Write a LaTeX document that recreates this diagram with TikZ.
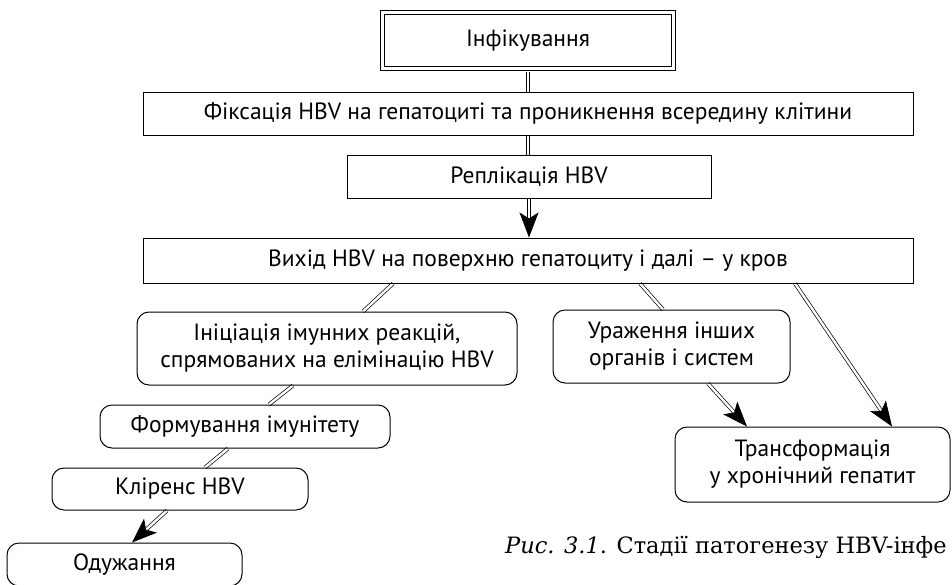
\documentclass[tikz,border=0pt]{standalone}
\usepackage{fontspec}
\setmainfont{PT Sans}
\newfontfamily\capfont{DejaVu Serif}
\usetikzlibrary{arrows.meta,backgrounds}

\tikzset{
  stage/.style={draw=black, line width=1pt, inner sep=0pt, align=center,
                font=\fontsize{23.5}{27}\selectfont},
  roundstage/.style={stage, rounded corners=12pt},
  startbox/.style={stage, double=white, double distance=3pt},
  link/.style={draw=black, line width=0.7pt, double=white, double distance=2.4pt},
  flow/.style={link, -{Stealth[length=25pt,width=19pt,inset=6pt]}},
  caption/.style={anchor=base west, inner sep=0pt, font=\capfont\fontsize{22.5}{26}\selectfont}
}

\begin{document}
\begin{tikzpicture}[x=1pt, y=-1pt]
  \useasboundingbox (0,0) rectangle (952,584);

  % stages of the scheme
  \node[startbox, minimum width=291pt, minimum height=56pt] (infect) at (528,40.5) {Інфікування};
  \node[stage, minimum width=770pt, minimum height=43pt] (fix) at (528,113.5)
       {Фіксація HBV на гепатоциті та проникнення всередину клітини};
  \node[stage, minimum width=364pt, minimum height=43pt] (repl) at (529,176.5) {Реплікація HBV};
  \node[stage, minimum width=770pt, minimum height=45pt] (exit) at (528,260.5)
       {Вихід HBV на поверхню гепатоциту і далі – у кров};
  \node[roundstage, minimum width=380pt, minimum height=73pt] (immune) at (327,348.5)
       {Ініціація імунних реакцій,\\спрямованих на елімінацію HBV};
  \node[roundstage, minimum width=237pt, minimum height=73pt] (organs) at (671.5,346.5)
       {Ураження інших\\органів і систем};
  \node[roundstage, minimum width=275pt, minimum height=75pt] (chronic) at (812.5,464.5)
       {Трансформація\\у хронічний гепатит};
  \node[roundstage, minimum width=290pt, minimum height=43pt] (immunity) at (245,426.5)
       {Формування імунітету};
  \node[roundstage, minimum width=256pt, minimum height=42pt] (clear) at (180,489)
       {Кліренс HBV};
  \node[roundstage, minimum width=235pt, minimum height=43pt] (recover) at (124.5,564.5)
       {Одужання};

  % connectors between the stages
  \begin{scope}[on background layer]
    \draw[link] ([yshift=-2.5pt]infect.south) -- (fix.north);
    \draw[link] (fix.south) -- (fix.south |- repl.north);
    \draw[flow] (repl.south) -- (repl.south |- exit.north);
    \draw[link] ([xshift=-135pt]exit.south) -- ([xshift=36pt]immune.north);
    \draw[link] ([xshift=112pt]exit.south) -- ([xshift=-8.5pt]organs.north);
    \draw[flow] ([xshift=267pt]exit.south) -- ([xshift=79.5pt]chronic.north);
    \draw[flow] ([xshift=36.5pt]organs.south) -- ([xshift=-65.5pt]chronic.north);
    \draw[link] ([xshift=-34pt]immune.south) -- ([xshift=24pt]immunity.north);
    \draw[link] ([xshift=-17pt]immunity.south) -- ([xshift=25pt]clear.north);
    \draw[flow] ([xshift=-13pt]clear.south) -- ([xshift=7.5pt]recover.north);
  \end{scope}

  % figure caption
  \node[caption] (cap) at (505,553) {{\itshape Рис. 3.1}. Стадії патогенезу HBV-інфе};
\end{tikzpicture}
\end{document}
